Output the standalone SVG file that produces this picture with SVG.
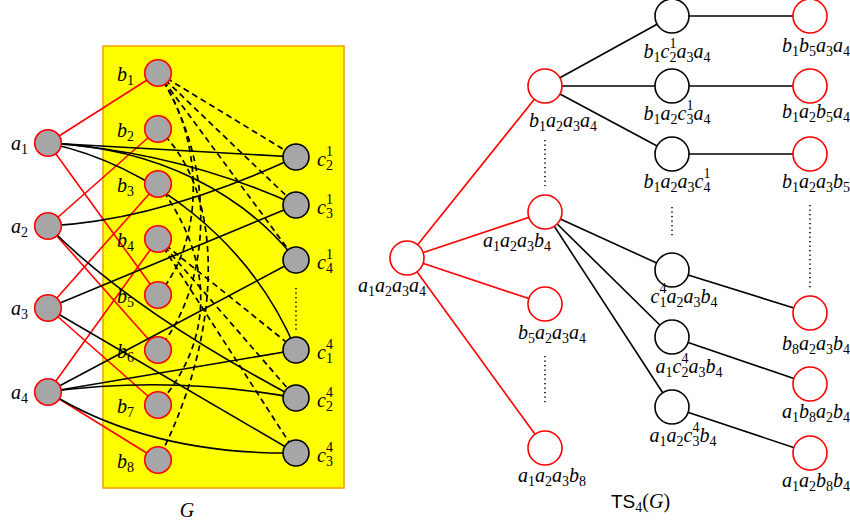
<svg xmlns="http://www.w3.org/2000/svg" width="850" height="529" viewBox="0 0 850 529">
<style>
.lbl{font-family:"Liberation Serif","Times New Roman",serif;font-size:20px;font-style:italic;fill:#000}
.s{font-size:14px;font-style:normal}
.gn{fill:#a6a6a6;stroke-width:1.6}
.gr{stroke:#ff0000}
.gb{stroke:#000}
.tn{fill:#fff;stroke-width:1.6}
.re{stroke:#ff0000;stroke-width:1.6;fill:none}
.be{stroke:#000;stroke-width:1.6;fill:none}
.de{stroke:#000;stroke-width:1.7;fill:none;stroke-dasharray:6 4}
.dots{stroke:#000;stroke-width:1.6;stroke-dasharray:1.2 3.3;fill:none}
</style>
<rect id="G-box" x="103" y="46" width="241" height="442" fill="#ffff00" stroke="#f0a000" stroke-width="1.5"/>
<g id="connectors">
  <g id="left-red">
    <path class="re" d="M48,143 L158,73"/>
    <path class="re" d="M48,143 L158,295"/>
    <path class="re" d="M48,226 L158,129"/>
    <path class="re" d="M48,226 L158,350"/>
    <path class="re" d="M48,308 L158,184"/>
    <path class="re" d="M48,308 L158,405"/>
    <path class="re" d="M48,392 L158,239"/>
    <path class="re" d="M48,392 L158,460"/>
  </g>
  <g id="left-black">
    <path class="be" d="M48,143 L296,157"/>
    <path class="be" d="M48,143 Q180,152 296,205"/>
    <path class="be" d="M48,143 C160,148 245,195 296,260"/>
    <path class="be" d="M48,143 C150,165 250,240 296,350"/>
    <path class="be" d="M48,226 Q160,220 296,157"/>
    <path class="be" d="M48,226 Q130,310 296,398"/>
    <path class="be" d="M48,308 L296,205"/>
    <path class="be" d="M48,308 L296,453"/>
    <path class="be" d="M48,392 L296,260"/>
    <path class="be" d="M48,392 L296,350"/>
    <path class="be" d="M48,392 Q170,375 296,398"/>
    <path class="be" d="M48,392 Q150,455 296,453"/>
  </g>
  <g id="left-dashed">
    <path class="de" d="M158,73 L296,157"/>
    <path class="de" d="M158,73 L296,205"/>
    <path class="de" d="M158,73 L296,260"/>
    <path class="de" d="M158,239 L296,350"/>
    <path class="de" d="M158,239 L296,398"/>
    <path class="de" d="M158,239 L296,453"/>
    <path class="de" d="M158,73 C205,140 205,240 158,295"/>
    <path class="de" d="M158,73 C215,160 215,280 158,350"/>
    <path class="de" d="M158,129 C225,190 225,330 158,460"/>
    <path class="de" d="M158,184 C215,260 215,340 158,405"/>
  </g>
  <path class="dots" d="M296,288 L296,332"/>
  <g id="tree-edges">
    <path class="re" d="M407,258 L545,86"/>
    <path class="re" d="M407,258 L545,212"/>
    <path class="re" d="M407,258 L545,304"/>
    <path class="re" d="M407,258 L545,448"/>
    <path class="be" d="M545,86 L672,16"/>
    <path class="be" d="M545,86 L672,86"/>
    <path class="be" d="M545,86 L672,154"/>
    <path class="be" d="M545,212 L672,270"/>
    <path class="be" d="M545,212 L672,337"/>
    <path class="be" d="M545,212 L672,407"/>
    <path class="be" d="M672,16 L810,16"/>
    <path class="be" d="M672,86 L810,86"/>
    <path class="be" d="M672,154 L810,154"/>
    <path class="be" d="M672,270 L810,313"/>
    <path class="be" d="M672,337 L810,384"/>
    <path class="be" d="M672,407 L810,453"/>
  </g>
  <path class="dots" d="M545,140 L545,186"/>
  <path class="dots" d="M545,356 L545,404"/>
  <path class="dots" d="M672,207 L672,238"/>
  <path class="dots" d="M810,205 L810,289"/>
</g>
<!-- left graph nodes -->
<g id="a1"><circle class="gn gr" cx="48" cy="143" r="13.3"/><text class="lbl" x="11" y="150">a<tspan class="s" dy="4">1</tspan></text></g>
<g id="a2"><circle class="gn gr" cx="48" cy="226" r="13.3"/><text class="lbl" x="11" y="233">a<tspan class="s" dy="4">2</tspan></text></g>
<g id="a3"><circle class="gn gr" cx="48" cy="308" r="13.3"/><text class="lbl" x="11" y="315">a<tspan class="s" dy="4">3</tspan></text></g>
<g id="a4"><circle class="gn gr" cx="48" cy="392" r="13.3"/><text class="lbl" x="11" y="399">a<tspan class="s" dy="4">4</tspan></text></g>
<g id="b1"><circle class="gn gr" cx="158" cy="73" r="13.3"/><text class="lbl" x="117" y="81">b<tspan class="s" dy="4">1</tspan></text></g>
<g id="b2"><circle class="gn gr" cx="158" cy="129" r="13.3"/><text class="lbl" x="117" y="137">b<tspan class="s" dy="4">2</tspan></text></g>
<g id="b3"><circle class="gn gr" cx="158" cy="184" r="13.3"/><text class="lbl" x="117" y="192">b<tspan class="s" dy="4">3</tspan></text></g>
<g id="b4"><circle class="gn gr" cx="158" cy="239" r="13.3"/><text class="lbl" x="117" y="247">b<tspan class="s" dy="4">4</tspan></text></g>
<g id="b5"><circle class="gn gr" cx="158" cy="295" r="13.3"/><text class="lbl" x="117" y="303">b<tspan class="s" dy="4">5</tspan></text></g>
<g id="b6"><circle class="gn gr" cx="158" cy="350" r="13.3"/><text class="lbl" x="117" y="358">b<tspan class="s" dy="4">6</tspan></text></g>
<g id="b7"><circle class="gn gr" cx="158" cy="405" r="13.3"/><text class="lbl" x="117" y="413">b<tspan class="s" dy="4">7</tspan></text></g>
<g id="b8"><circle class="gn gr" cx="158" cy="460" r="13.3"/><text class="lbl" x="117" y="468">b<tspan class="s" dy="4">8</tspan></text></g>
<g id="c21"><circle class="gn gb" cx="296" cy="157" r="13"/><text class="lbl" x="317" y="166">c<tspan class="s" dy="4">2</tspan><tspan class="s" dx="-7" dy="-14">1</tspan></text></g>
<g id="c31"><circle class="gn gb" cx="296" cy="205" r="13"/><text class="lbl" x="317" y="214">c<tspan class="s" dy="4">3</tspan><tspan class="s" dx="-7" dy="-14">1</tspan></text></g>
<g id="c41"><circle class="gn gb" cx="296" cy="260" r="13"/><text class="lbl" x="317" y="269">c<tspan class="s" dy="4">4</tspan><tspan class="s" dx="-7" dy="-14">1</tspan></text></g>
<g id="c14"><circle class="gn gb" cx="296" cy="350" r="13"/><text class="lbl" x="317" y="359">c<tspan class="s" dy="4">1</tspan><tspan class="s" dx="-7" dy="-14">4</tspan></text></g>
<g id="c24"><circle class="gn gb" cx="296" cy="398" r="13"/><text class="lbl" x="317" y="407">c<tspan class="s" dy="4">2</tspan><tspan class="s" dx="-7" dy="-14">4</tspan></text></g>
<g id="c34"><circle class="gn gb" cx="296" cy="453" r="13"/><text class="lbl" x="317" y="462">c<tspan class="s" dy="4">3</tspan><tspan class="s" dx="-7" dy="-14">4</tspan></text></g>
<text class="lbl" x="187" y="517" text-anchor="middle">G</text>
<!-- tree nodes -->
<g id="t-root"><circle class="tn gr" cx="407" cy="258" r="17"/><text class="lbl" x="392" y="292" text-anchor="middle">a<tspan class="s" dy="4">1</tspan><tspan dy="-4">a</tspan><tspan class="s" dy="4">2</tspan><tspan dy="-4">a</tspan><tspan class="s" dy="4">3</tspan><tspan dy="-4">a</tspan><tspan class="s" dy="4">4</tspan></text></g>
<g id="t-b1a2a3a4"><circle class="tn gr" cx="545" cy="86" r="17"/><text class="lbl" x="563" y="127" text-anchor="middle">b<tspan class="s" dy="4">1</tspan><tspan dy="-4">a</tspan><tspan class="s" dy="4">2</tspan><tspan dy="-4">a</tspan><tspan class="s" dy="4">3</tspan><tspan dy="-4">a</tspan><tspan class="s" dy="4">4</tspan></text></g>
<g id="t-a1a2a3b4"><circle class="tn gr" cx="545" cy="212" r="17"/><text class="lbl" x="517" y="247" text-anchor="middle">a<tspan class="s" dy="4">1</tspan><tspan dy="-4">a</tspan><tspan class="s" dy="4">2</tspan><tspan dy="-4">a</tspan><tspan class="s" dy="4">3</tspan><tspan dy="-4">b</tspan><tspan class="s" dy="4">4</tspan></text></g>
<g id="t-b5a2a3a4"><circle class="tn gr" cx="545" cy="304" r="17"/><text class="lbl" x="552" y="339" text-anchor="middle">b<tspan class="s" dy="4">5</tspan><tspan dy="-4">a</tspan><tspan class="s" dy="4">2</tspan><tspan dy="-4">a</tspan><tspan class="s" dy="4">3</tspan><tspan dy="-4">a</tspan><tspan class="s" dy="4">4</tspan></text></g>
<g id="t-a1a2a3b8"><circle class="tn gr" cx="545" cy="448" r="17"/><text class="lbl" x="552" y="482" text-anchor="middle">a<tspan class="s" dy="4">1</tspan><tspan dy="-4">a</tspan><tspan class="s" dy="4">2</tspan><tspan dy="-4">a</tspan><tspan class="s" dy="4">3</tspan><tspan dy="-4">b</tspan><tspan class="s" dy="4">8</tspan></text></g>
<g id="t-b1c21a3a4"><circle class="tn gb" cx="672" cy="16" r="17"/><text class="lbl" x="677" y="58" text-anchor="middle">b<tspan class="s" dy="4">1</tspan><tspan dy="-4">c</tspan><tspan class="s" dy="4">2</tspan><tspan class="s" dx="-7" dy="-14">1</tspan><tspan dy="10">a</tspan><tspan class="s" dy="4">3</tspan><tspan dy="-4">a</tspan><tspan class="s" dy="4">4</tspan></text></g>
<g id="t-b1a2c31a4"><circle class="tn gb" cx="672" cy="86" r="17"/><text class="lbl" x="677" y="120" text-anchor="middle">b<tspan class="s" dy="4">1</tspan><tspan dy="-4">a</tspan><tspan class="s" dy="4">2</tspan><tspan dy="-4">c</tspan><tspan class="s" dy="4">3</tspan><tspan class="s" dx="-7" dy="-14">1</tspan><tspan dy="10">a</tspan><tspan class="s" dy="4">4</tspan></text></g>
<g id="t-b1a2a3c41"><circle class="tn gb" cx="672" cy="154" r="17"/><text class="lbl" x="677" y="188" text-anchor="middle">b<tspan class="s" dy="4">1</tspan><tspan dy="-4">a</tspan><tspan class="s" dy="4">2</tspan><tspan dy="-4">a</tspan><tspan class="s" dy="4">3</tspan><tspan dy="-4">c</tspan><tspan class="s" dy="4">4</tspan><tspan class="s" dx="-7" dy="-14">1</tspan></text></g>
<g id="t-c14a2a3b4"><circle class="tn gb" cx="672" cy="270" r="17"/><text class="lbl" x="684" y="303" text-anchor="middle">c<tspan class="s" dy="4">1</tspan><tspan class="s" dx="-7" dy="-14">4</tspan><tspan dy="10">a</tspan><tspan class="s" dy="4">2</tspan><tspan dy="-4">a</tspan><tspan class="s" dy="4">3</tspan><tspan dy="-4">b</tspan><tspan class="s" dy="4">4</tspan></text></g>
<g id="t-a1c24a3b4"><circle class="tn gb" cx="672" cy="337" r="17"/><text class="lbl" x="689" y="373" text-anchor="middle">a<tspan class="s" dy="4">1</tspan><tspan dy="-4">c</tspan><tspan class="s" dy="4">2</tspan><tspan class="s" dx="-7" dy="-14">4</tspan><tspan dy="10">a</tspan><tspan class="s" dy="4">3</tspan><tspan dy="-4">b</tspan><tspan class="s" dy="4">4</tspan></text></g>
<g id="t-a1a2c34b4"><circle class="tn gb" cx="672" cy="407" r="17"/><text class="lbl" x="683" y="442" text-anchor="middle">a<tspan class="s" dy="4">1</tspan><tspan dy="-4">a</tspan><tspan class="s" dy="4">2</tspan><tspan dy="-4">c</tspan><tspan class="s" dy="4">3</tspan><tspan class="s" dx="-7" dy="-14">4</tspan><tspan dy="10">b</tspan><tspan class="s" dy="4">4</tspan></text></g>
<g id="t-b1b5a3a4"><circle class="tn gr" cx="810" cy="16" r="17"/><text class="lbl" x="816" y="52" text-anchor="middle">b<tspan class="s" dy="4">1</tspan><tspan dy="-4">b</tspan><tspan class="s" dy="4">5</tspan><tspan dy="-4">a</tspan><tspan class="s" dy="4">3</tspan><tspan dy="-4">a</tspan><tspan class="s" dy="4">4</tspan></text></g>
<g id="t-b1a2b5a4"><circle class="tn gr" cx="810" cy="86" r="17"/><text class="lbl" x="816" y="118" text-anchor="middle">b<tspan class="s" dy="4">1</tspan><tspan dy="-4">a</tspan><tspan class="s" dy="4">2</tspan><tspan dy="-4">b</tspan><tspan class="s" dy="4">5</tspan><tspan dy="-4">a</tspan><tspan class="s" dy="4">4</tspan></text></g>
<g id="t-b1a2a3b5"><circle class="tn gr" cx="810" cy="154" r="17"/><text class="lbl" x="816" y="188" text-anchor="middle">b<tspan class="s" dy="4">1</tspan><tspan dy="-4">a</tspan><tspan class="s" dy="4">2</tspan><tspan dy="-4">a</tspan><tspan class="s" dy="4">3</tspan><tspan dy="-4">b</tspan><tspan class="s" dy="4">5</tspan></text></g>
<g id="t-b8a2a3b4"><circle class="tn gr" cx="810" cy="313" r="17"/><text class="lbl" x="816" y="350" text-anchor="middle">b<tspan class="s" dy="4">8</tspan><tspan dy="-4">a</tspan><tspan class="s" dy="4">2</tspan><tspan dy="-4">a</tspan><tspan class="s" dy="4">3</tspan><tspan dy="-4">b</tspan><tspan class="s" dy="4">4</tspan></text></g>
<g id="t-a1b8a2b4"><circle class="tn gr" cx="810" cy="384" r="17"/><text class="lbl" x="816" y="418" text-anchor="middle">a<tspan class="s" dy="4">1</tspan><tspan dy="-4">b</tspan><tspan class="s" dy="4">8</tspan><tspan dy="-4">a</tspan><tspan class="s" dy="4">2</tspan><tspan dy="-4">b</tspan><tspan class="s" dy="4">4</tspan></text></g>
<g id="t-a1a2b8b4"><circle class="tn gr" cx="810" cy="453" r="17"/><text class="lbl" x="816" y="487" text-anchor="middle">a<tspan class="s" dy="4">1</tspan><tspan dy="-4">a</tspan><tspan class="s" dy="4">2</tspan><tspan dy="-4">b</tspan><tspan class="s" dy="4">8</tspan><tspan dy="-4">b</tspan><tspan class="s" dy="4">4</tspan></text></g>
<text x="611" y="508" font-family="'Liberation Sans',Arial,sans-serif" font-size="19" fill="#000">TS<tspan font-family="'Liberation Serif',serif" font-size="14" dy="4">4</tspan><tspan font-family="'Liberation Serif',serif" font-size="20" dy="-4">(</tspan><tspan font-family="'Liberation Serif',serif" font-size="20" font-style="italic">G</tspan><tspan font-family="'Liberation Serif',serif" font-size="20">)</tspan></text>
</svg>
